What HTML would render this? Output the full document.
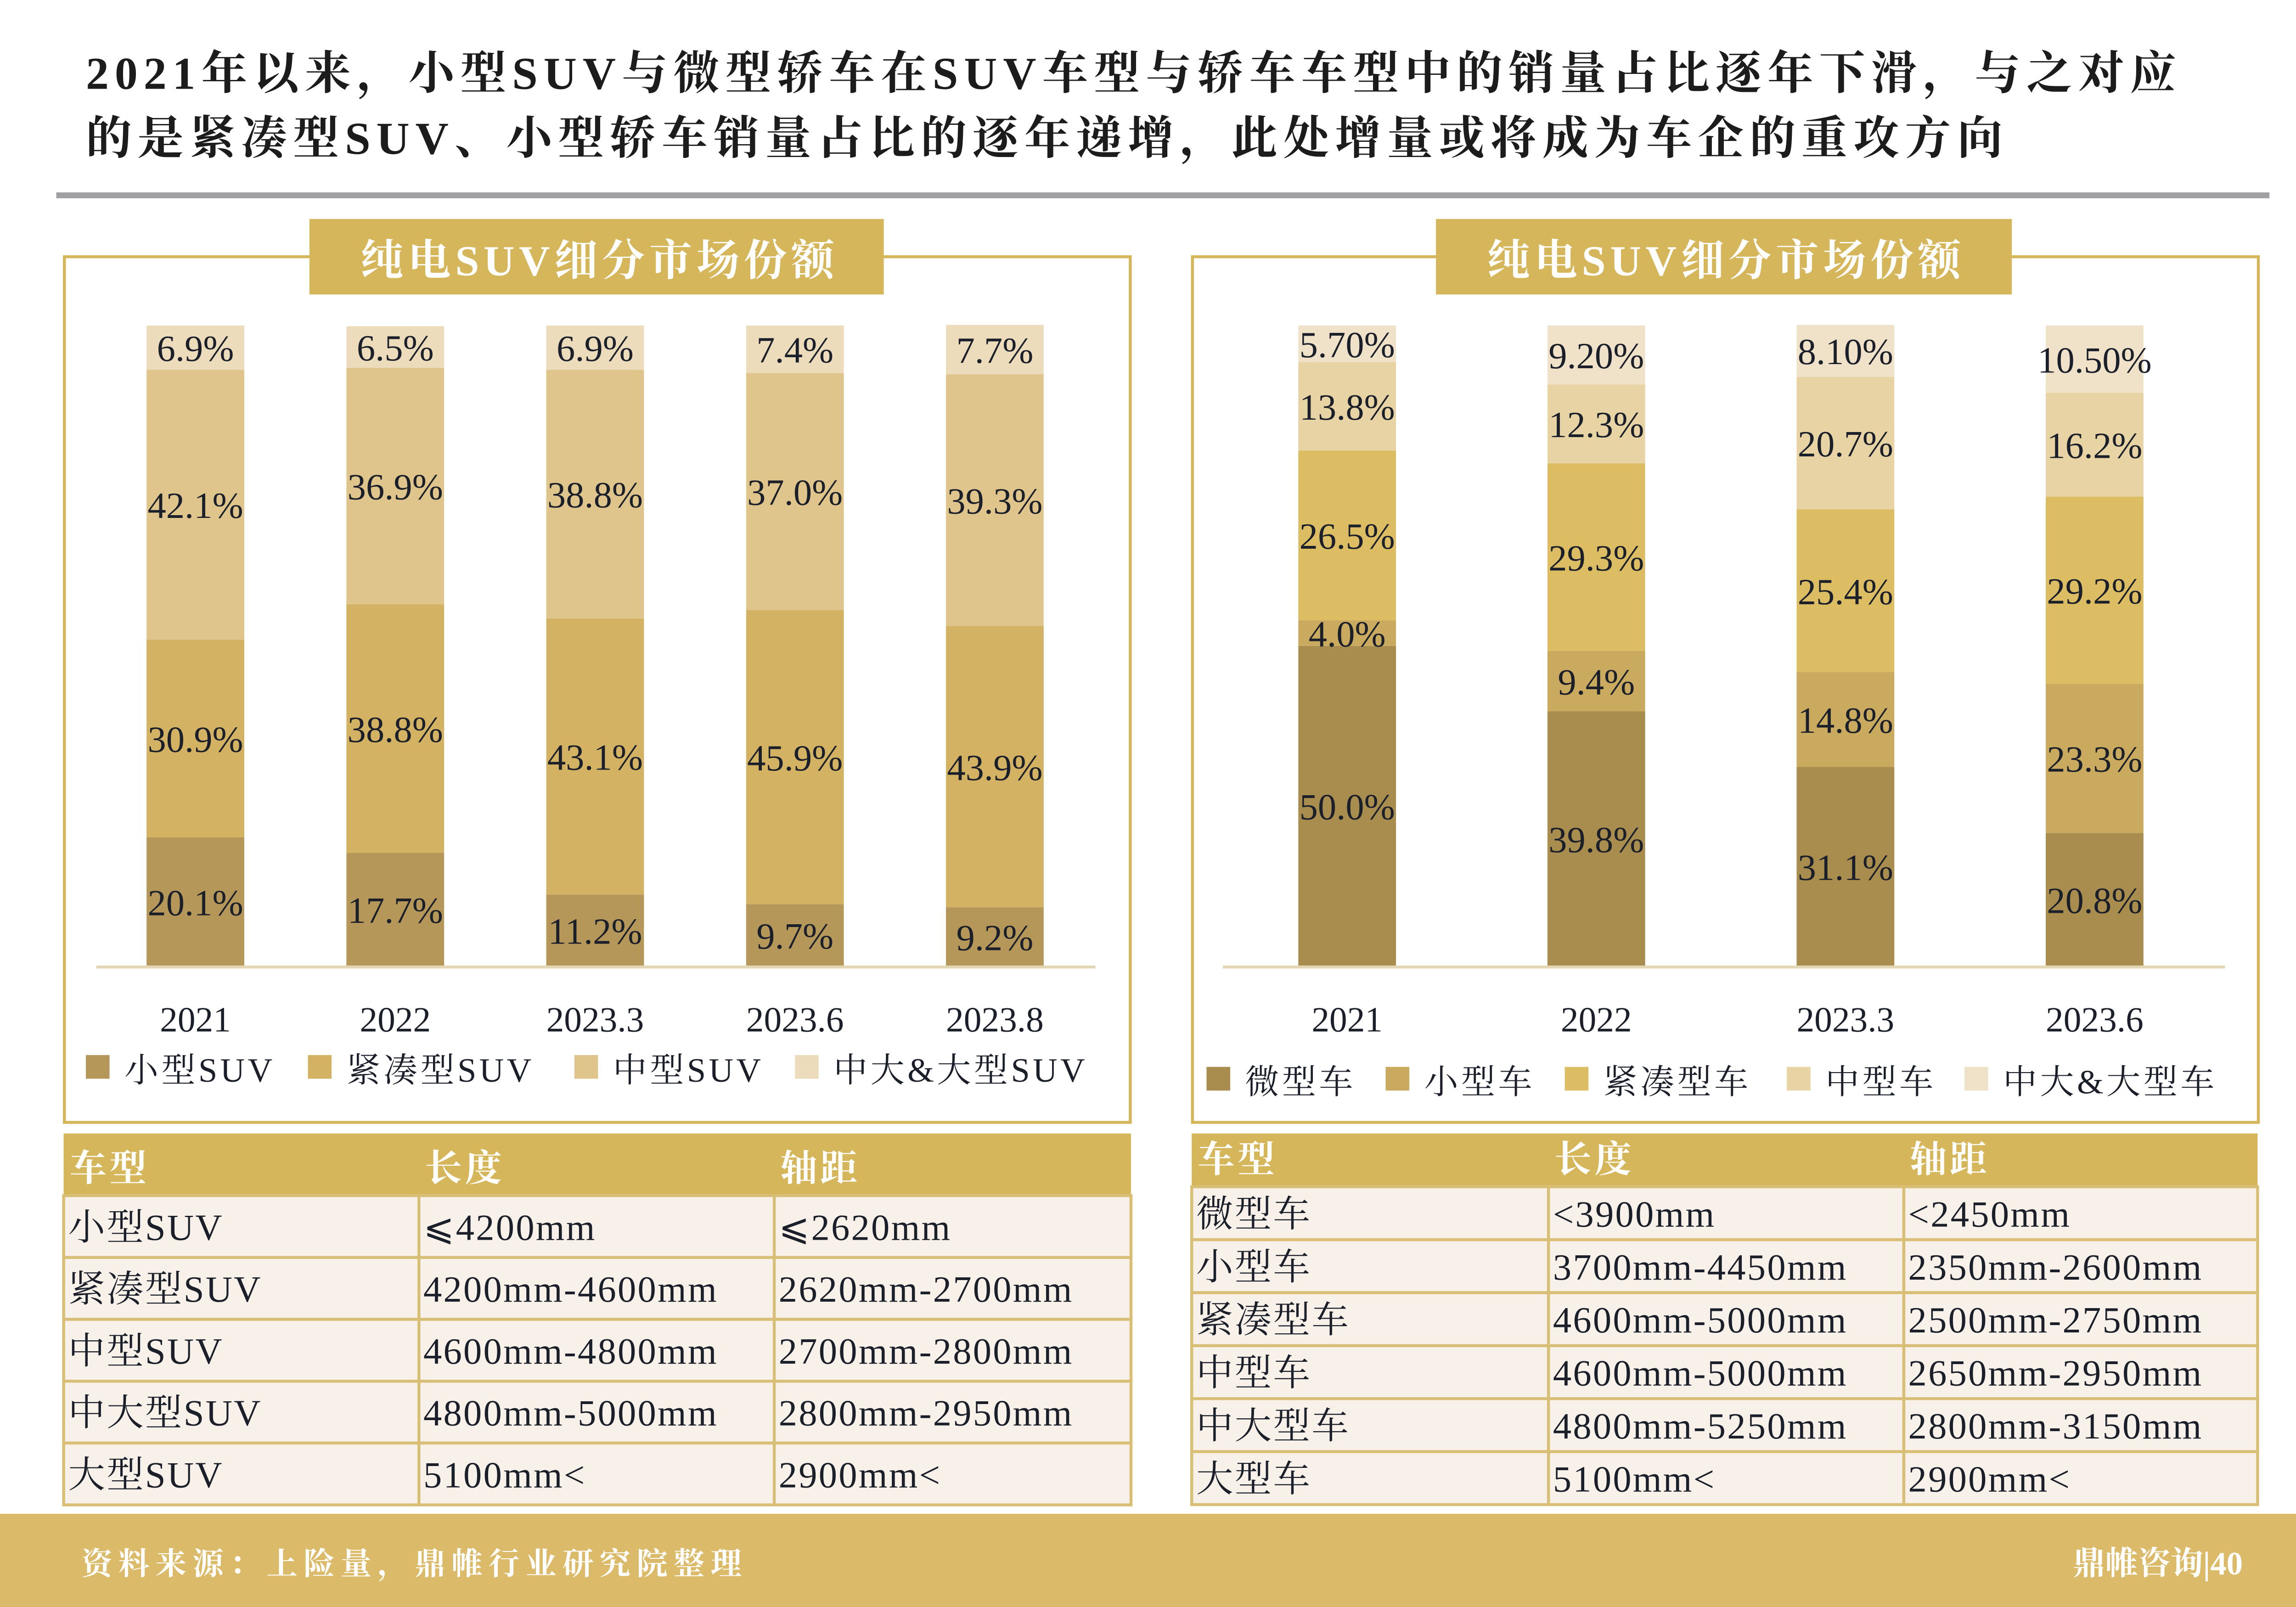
<!DOCTYPE html>
<html><head><meta charset="utf-8"><style>
html,body{margin:0;padding:0;background:#fff;}
svg{display:block;}
text{font-family:"Liberation Serif","Noto Serif CJK SC",serif;}
</style></head><body>
<svg id="s" width="5055" height="3500" viewBox="0 0 1568 1086" preserveAspectRatio="none" xmlns="http://www.w3.org/2000/svg">
<rect width="1568" height="1086" fill="#fff"/>
<g font-size="31" font-weight="bold" fill="#1c1c1c" letter-spacing="4">
<text x="58" y="60">2021年以来，小型SUV与微型轿车在SUV车型与轿车车型中的销量占比逐年下滑，与之对应</text>
<text x="58" y="104">的是紧凑型SUV、小型轿车销量占比的逐年递增，此处增量或将成为车企的重攻方向</text>
</g>
<rect x="38" y="130" width="1495" height="4" fill="#a0a0a4"/>

<rect x="43.5" y="173.5" width="720" height="585" fill="none" stroke="#d6b65a" stroke-width="2"/>
<rect x="209" y="148" width="388" height="51" fill="#d6b65a"/>
<text x="405" y="186" text-anchor="middle" font-size="29" font-weight="bold" fill="#fff" letter-spacing="3">纯电SUV细分市场份额</text>

<rect x="805.5" y="173.5" width="720" height="585" fill="none" stroke="#d6b65a" stroke-width="2"/>
<rect x="970" y="148" width="389" height="51" fill="#d6b65a"/>
<text x="1166" y="186" text-anchor="middle" font-size="29" font-weight="bold" fill="#fff" letter-spacing="3">纯电SUV细分市场份额</text>

<g id="charts"></g>
<g id="tables"></g>

<rect x="0" y="1023" width="1568" height="63" fill="#dbbb69"/>
<text x="55" y="1064" font-size="21" font-weight="bold" fill="#fff" letter-spacing="4">资料来源：上险量，鼎帷行业研究院整理</text>
<text x="1515" y="1064" text-anchor="end" font-size="22" font-weight="bold" fill="#fff" font-family="Liberation Sans,Noto Sans CJK SC,sans-serif">鼎帷咨询|40</text>
</svg>
<script>
// Left chart data
const leftCategories = ["2021","2022","2023.3","2023.6","2023.8"];
const leftSeriesNames = ["小型SUV","紧凑型SUV","中型SUV","中大&大型SUV"];
const leftSmall = [20.1,17.7,11.2,9.7,9.2];
const leftCompact = [30.9,38.8,43.1,45.9,43.9];
const leftMid = [42.1,36.9,38.8,37.0,39.3];
const leftLarge = [6.9,6.5,6.9,7.4,7.7];
// Right chart data
const rightCategories = ["2021","2022","2023.3","2023.6"];
const rightSeriesNames = ["微型车","小型车","紧凑型车","中型车","中大&大型车"];
const rightMicro = [50.0,39.8,31.1,20.8];
const rightSmall = [4.0,9.4,14.8,23.3];
const rightCompact = [26.5,29.3,25.4,29.2];
const rightMid = [13.8,12.3,20.7,16.2];
const rightLarge = [5.7,9.2,8.1,10.5];
const rightLabels = [
 ["50.0%","39.8%","31.1%","20.8%"],["4.0%","9.4%","14.8%","23.3%"],
 ["26.5%","29.3%","25.4%","29.2%"],["13.8%","12.3%","20.7%","16.2%"],
 ["5.70%","9.20%","8.10%","10.50%"]];

const NS="http://www.w3.org/2000/svg";
function mk(tag,attrs,parent){const e=document.createElementNS(NS,tag);for(const k in attrs)e.setAttribute(k,attrs[k]);parent.appendChild(e);return e;}
const root=document.getElementById('charts');

function drawChart(opt){
  const g=mk('g',{},root);
  
  
  const y0=653,y1=220;
  const yScale=v=>(y0-y1)*v/100;
  const xScale=i=>opt.x0+i*opt.step;
  opt.cats.forEach((c,i)=>{
    let acc=0;
    opt.series.forEach((arr,si)=>{
      const v=arr[i];const h=yScale(v);const top=y0-yScale(acc+v);
      const r=mk('rect',{x:xScale(i)-33,y:top,width:66,height:h,fill:opt.colors[si]},g);
      
      
      const lbl=opt.labels?opt.labels[si][i]:v.toFixed(1)+'%';
      const t=mk('text',{x:xScale(i),y:top+h/2+9,'text-anchor':'middle','font-size':25,fill:'#1a1f2a'},g);
      t.textContent=lbl;
      
      
      acc+=v;
    });
    const ct=mk('text',{x:xScale(i),y:697,'text-anchor':'middle','font-size':24,fill:'#1a1f2a'},g);
    ct.textContent=c;
    
    
  });
  const ax=mk('line',{x1:opt.ax1,x2:opt.ax2,y1:653.5,y2:653.5,stroke:'#e3d7b6','stroke-width':2},g);
  
  
  opt.legend.forEach((L,i)=>{
    const lg=mk('g',{},g);
    
    
    mk('rect',{x:L[0],y:opt.ly-18,width:16,height:16,fill:opt.colors[i]},lg);
    const t=mk('text',{x:L[0]+26,y:opt.ly,'font-size':23,fill:'#1a1f2a','letter-spacing':2},lg);
    t.textContent=opt.names[i];
  });
}
drawChart({name:'left-stacked-bar-chart',prefix:'left',cats:leftCategories,series:[leftSmall,leftCompact,leftMid,leftLarge],
 colors:['#b5975a','#d3b264','#dfc58c','#ecdcbb'],x0:132,step:135,ax1:65,ax2:740,names:leftSeriesNames,
 legend:[[58],[208],[388],[537]],ly:731});
drawChart({name:'right-stacked-bar-chart',prefix:'right',cats:rightCategories,series:[rightMicro,rightSmall,rightCompact,rightMid,rightLarge],
 labels:rightLabels,colors:['#a98d4e','#c9aa5f','#dcbd64','#e8d3a4','#f0e2c9'],x0:910,step:168.3,ax1:826,ax2:1503,names:rightSeriesNames,
 legend:[[815],[936],[1057],[1207],[1327]],ly:739});

// Tables
const leftTableHead=["车型","长度","轴距"];
const leftTableRows=[["小型SUV","⩽4200mm","⩽2620mm"],["紧凑型SUV","4200mm-4600mm","2620mm-2700mm"],["中型SUV","4600mm-4800mm","2700mm-2800mm"],["中大型SUV","4800mm-5000mm","2800mm-2950mm"],["大型SUV","5100mm<","2900mm<"]];
const rightTableHead=["车型","长度","轴距"];
const rightTableRows=[["微型车","<3900mm","<2450mm"],["小型车","3700mm-4450mm","2350mm-2600mm"],["紧凑型车","4600mm-5000mm","2500mm-2750mm"],["中型车","4600mm-5000mm","2650mm-2950mm"],["中大型车","4800mm-5250mm","2800mm-3150mm"],["大型车","5100mm<","2900mm<"]];
const troot=document.getElementById('tables');
function drawTable(name,x,cols,w,hy,hh,rows,head,rh){
  const g=mk('g',{},troot);
  
  
  mk('rect',{x:x,y:hy,width:w,height:hh,fill:'#d6b65a'},g);
  head.forEach((h,i)=>{const t=mk('text',{x:cols[i]+4,y:hy+hh-10,'font-size':25,'font-weight':'bold',fill:'#fff','letter-spacing':2},g);t.textContent=h;});
  rows.forEach((r,ri)=>{
    const y=hy+hh+ri*rh;
    mk('rect',{x:x,y:y,width:w,height:rh,fill:'#f7f1ea',stroke:'#d9bf75','stroke-width':2},g);
    r.forEach((c,ci)=>{
      if(ci>0) mk('line',{x1:cols[ci],x2:cols[ci],y1:y,y2:y+rh,stroke:'#d9bf75','stroke-width':2},g);
      const t=mk('text',{x:cols[ci]+3,y:y+rh/2+9,'font-size':25,fill:'#1a1f2a','letter-spacing':1},g);
      t.textContent=c;
    });
  });
}
drawTable('left-size-table',43,[43,283,523],721,766,42,leftTableRows,leftTableHead,41.8);
drawTable('right-size-table',805,[805,1046,1286],720,766,36,rightTableRows,rightTableHead,35.8);
</script>
</body></html>
